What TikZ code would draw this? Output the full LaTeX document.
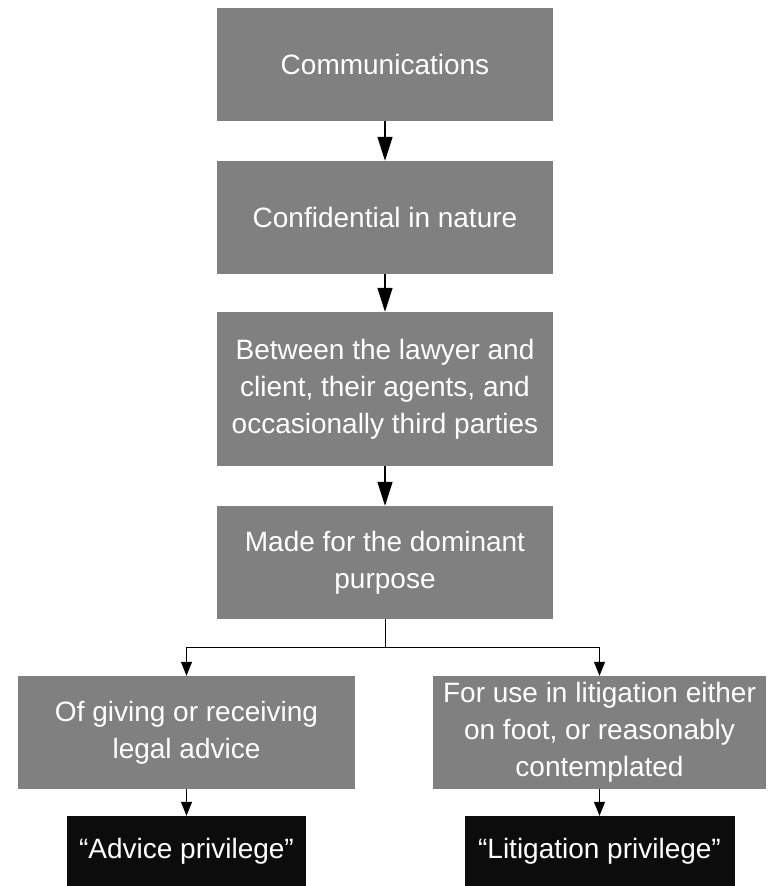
\documentclass[tikz,border=0pt]{standalone}
\usepackage{fontspec}
\setmainfont{Liberation Sans}
\usetikzlibrary{arrows.meta,positioning}
\definecolor{boxgray}{RGB}{128,128,128}
\definecolor{boxblack}{RGB}{12,12,12}

\begin{document}
\begin{tikzpicture}[x=1pt, y=1pt, node distance=153.5pt,
  stage/.style={shape=rectangle, fill=boxgray, text=white, align=center, minimum width=336pt, minimum height=113pt, inner sep=0pt, font=\fontsize{28}{37}\selectfont},
  result/.style={shape=rectangle, fill=boxblack, text=white, align=center, minimum height=70pt, inner sep=0pt, font=\fontsize{28}{37}\selectfont},
  bigarrow/.style={-{Triangle[length=24pt,width=15pt]}, line width=1.4pt},
  smallarrow/.style={-{Triangle[length=14pt,width=11pt]}, line width=1pt}]
\useasboundingbox (0,0) rectangle (771,-886);
\node [stage] (Com) at (385,-64) {Communications};
\node [stage, below of=Com] (Conf) {Confidential in nature};
\node [stage, below of=Conf, node distance=171.5pt, minimum height=154pt] (Betw) {Between the lawyer and\\client, their agents, and\\occasionally third parties};
\node [stage, below of=Betw, node distance=173.5pt] (Purp) {Made for the dominant\\purpose};
\node [stage, below of=Purp, node distance=170pt, xshift=-198.5pt, minimum width=337pt] (Adv) {Of giving or receiving\\legal advice};
\node [stage, below of=Purp, node distance=170pt, xshift=214.5pt, minimum width=333pt] (Lit) {For use in litigation either\\on foot, or reasonably\\contemplated};
\node [result, below of=Adv, node distance=118.5pt, minimum width=239pt] (AdvP) {“Advice privilege”};
\node [result, below of=Lit, node distance=118.5pt, minimum width=270pt] (LitP) {“Litigation privilege”};

\draw[bigarrow] (Com) -- (Conf);
\draw[bigarrow] (Conf) -- (Betw);
\draw[bigarrow] (Betw) -- (Purp);
\draw[smallarrow] (Purp.south) -- ++(0,-28) -| (Adv.north);
\draw[smallarrow] (Purp.south) -- ++(0,-28) -| (Lit.north);
\draw[smallarrow] (Adv) -- (AdvP);
\draw[smallarrow] (Lit) -- (LitP);
\end{tikzpicture}
\end{document}
